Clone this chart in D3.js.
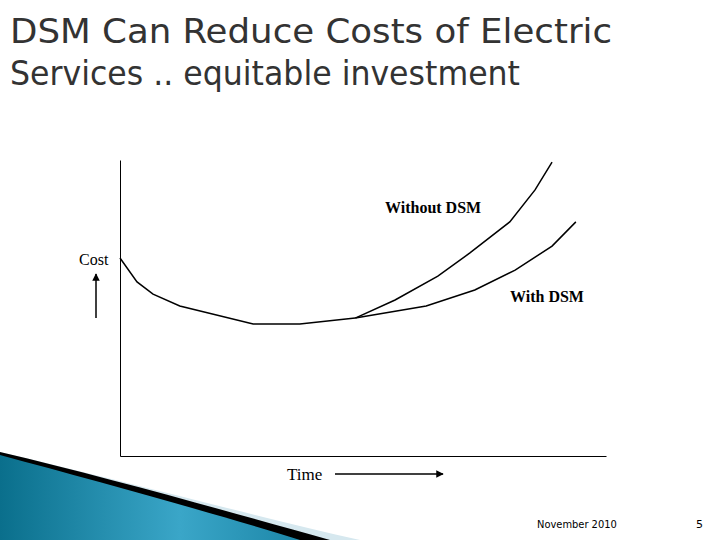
<!DOCTYPE html>
<html><head><meta charset="utf-8">
<script src="https://cdn.jsdelivr.net/npm/d3@7"></script>
<style>body{margin:0;background:#fff}</style>
</head><body>
<script>
// curve shared by both scenarios, then the two diverging branches
var commonT = [0, 3.5, 6.8, 12.3, 27.4, 37.0, 48.4];
var commonC = [66.9, 58.8, 54.7, 50.7, 44.6, 44.6, 46.6];
var withoutT = [48.4, 56.6, 65.4, 72.0, 80.2, 85.4, 88.9];
var withoutC = [46.6, 52.7, 60.8, 68.6, 79.1, 89.9, 99.3];
var withT = [48.4, 63.0, 73.0, 81.3, 88.9, 93.8];
var withC = [46.6, 50.7, 56.1, 62.8, 70.9, 79.1];

var svg = d3.select("body").append("svg").attr("width", 720).attr("height", 540);

// decorative swoosh bottom-left
svg.append("path").attr("d", "M0,452 C120,480 250,515 360,540 L0,540Z").attr("fill", "#d6e8ef");
svg.append("path").attr("d", "M0,452 C110,478 230,512 330,540 L0,540Z").attr("fill", "#000");
var grad = svg.append("defs").append("linearGradient").attr("id", "g").attr("x1", 0).attr("x2", 1);
grad.append("stop").attr("offset", 0).attr("stop-color", "#0a6f8c");
grad.append("stop").attr("offset", 0.6).attr("stop-color", "#3aa6c8");
grad.append("stop").attr("offset", 1).attr("stop-color", "#1d87a8");
svg.append("path").attr("d", "M0,455 C100,482 210,512 300,540 L0,540Z").attr("fill", "url(#g)");

var tf = "DejaVu Sans Condensed";
svg.append("text").attr("x", 10).attr("y", 43).attr("font-family", tf).attr("font-size", 34)
  .attr("fill", "#333").attr("textLength", 602).attr("lengthAdjust", "spacingAndGlyphs").text("DSM Can Reduce Costs of Electric");
svg.append("text").attr("x", 10).attr("y", 85).attr("font-family", tf).attr("font-size", 34)
  .attr("fill", "#333").attr("textLength", 510).attr("lengthAdjust", "spacingAndGlyphs").text("Services .. equitable investment");

var x = d3.scaleLinear().domain([0, 100]).range([120, 606]);
var y = d3.scaleLinear().domain([0, 100]).range([456, 160]);

var g = svg.append("g");
g.append("g").attr("transform", "translate(120,0)").call(d3.axisLeft(y).ticks(0).tickSize(0))
  .select(".domain").attr("stroke", "#000");
g.append("g").attr("transform", "translate(0,456)").call(d3.axisBottom(x).ticks(0).tickSize(0))
  .select(".domain").attr("stroke", "#000");

var line = d3.line().x(function(d) { return x(d[0]); }).y(function(d) { return y(d[1]); });
[[commonT, commonC], [withoutT, withoutC], [withT, withC]].forEach(function(s) {
  g.append("path").datum(d3.zip(s[0], s[1])).attr("d", line)
    .attr("fill", "none").attr("stroke", "#000").attr("stroke-width", 1.5);
});

var serif = "Liberation Serif";
svg.append("text").attr("x", 385).attr("y", 213).attr("font-family", serif).attr("font-size", 16).attr("font-weight", "bold").text("Without DSM");
svg.append("text").attr("x", 510).attr("y", 302).attr("font-family", serif).attr("font-size", 16).attr("font-weight", "bold").text("With DSM");
svg.append("text").attr("x", 79).attr("y", 265).attr("font-family", serif).attr("font-size", 16).text("Cost");
svg.append("text").attr("x", 287).attr("y", 480).attr("font-family", serif).attr("font-size", 17).text("Time");

// arrows
var mk = svg.select("defs").append("marker").attr("id", "a").attr("viewBox", "0 0 10 10")
  .attr("refX", 9).attr("refY", 5).attr("markerWidth", 5).attr("markerHeight", 5).attr("orient", "auto");
mk.append("path").attr("d", "M0,0L10,5L0,10Z");
svg.append("line").attr("x1", 96).attr("y1", 318).attr("x2", 96).attr("y2", 274)
  .attr("stroke", "#000").attr("stroke-width", 1.5).attr("marker-end", "url(#a)");
svg.append("line").attr("x1", 335).attr("y1", 474).attr("x2", 443).attr("y2", 474)
  .attr("stroke", "#000").attr("stroke-width", 1.5).attr("marker-end", "url(#a)");

svg.append("text").attr("x", 537).attr("y", 528).attr("font-family", "DejaVu Sans Condensed").attr("font-size", 11).text("November 2010");
svg.append("text").attr("x", 696).attr("y", 528).attr("font-family", "DejaVu Sans").attr("font-size", 11).text("5");
</script>
</body></html>
